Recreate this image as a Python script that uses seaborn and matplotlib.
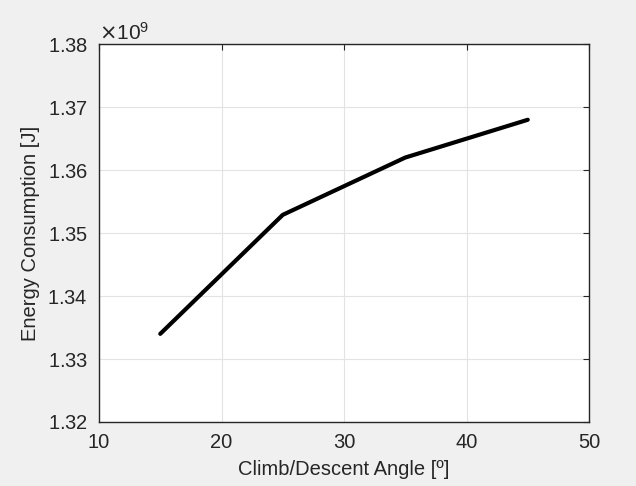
import matplotlib
matplotlib.use("Agg")
import matplotlib.pyplot as plt
import seaborn as sns
import pandas as pd

# datos
angulo = [15, 25, 35, 45]
energia = [1.3340e9, 1.3529e9, 1.3620e9, 1.3680e9]

df = pd.DataFrame({"angulo": angulo, "energia": energia})

sns.set_theme(style="whitegrid")
plt.rcParams['font.family'] = ['Liberation Sans', 'DejaVu Sans']
txt = "#262626"

fig = plt.figure(figsize=(6.36, 4.86), dpi=100, facecolor="#f0f0f0")
ax = fig.add_axes([0.1557, 0.1317, 0.7704, 0.7773])
ax.set_facecolor("white")

sns.lineplot(data=df, x="angulo", y="energia", color="black", linewidth=3, ax=ax)

ax.set_xlim(10, 50)
ax.set_ylim(1.32e9, 1.38e9)
ax.set_xticks([10, 20, 30, 40, 50])
ax.set_yticks([1.32e9, 1.33e9, 1.34e9, 1.35e9, 1.36e9, 1.37e9, 1.38e9])
ax.ticklabel_format(axis="y", style="sci", scilimits=(9, 9), useMathText=True)
ax.yaxis.get_offset_text().set_fontsize(15)
ax.yaxis.get_offset_text().set_color(txt)

ax.grid(True, color="#e3e3e3", linewidth=0.8)
for s in ax.spines.values():
    s.set_color(txt)
    s.set_linewidth(1)
ax.tick_params(direction="in", length=4, width=0.8, colors=txt, labelsize=14.5,
               top=True, right=True, labelcolor=txt)
ax.tick_params(axis="y", pad=8)
ax.tick_params(axis="x", pad=8)

ax.set_xlabel("Climb/Descent Angle [º]", fontsize=14.5, color=txt, labelpad=6)
ax.set_ylabel("Energy Consumption [J]", fontsize=14.5, color=txt, labelpad=5)

fig.savefig("out.png", dpi=100, facecolor=fig.get_facecolor())
